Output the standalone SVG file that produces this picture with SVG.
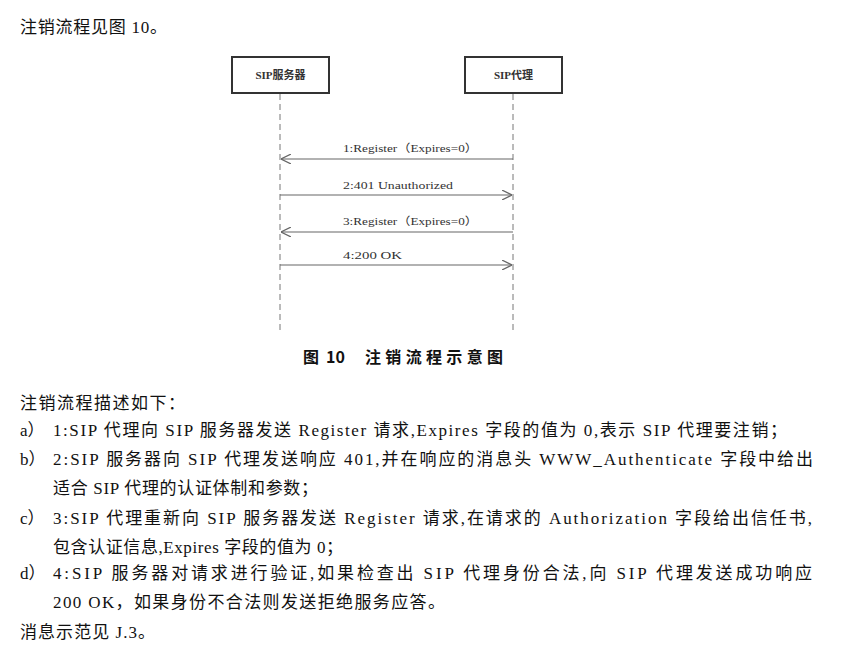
<svg xmlns="http://www.w3.org/2000/svg" width="857" height="649" viewBox="0 0 857 649">
<defs>
<style>
.body{font-family:"Liberation Serif","Noto Sans CJK SC",serif;font-size:17px;fill:#111;}
.lbl{font-family:"Liberation Serif","Noto Sans CJK SC",serif;font-size:11px;fill:#333;}
.box{fill:#fff;stroke:#333;stroke-width:2;}
.boxt{font-family:"Liberation Serif","Noto Sans CJK SC",serif;font-size:11px;font-weight:bold;fill:#333;text-anchor:middle;}
.life{stroke:#777;stroke-width:1;stroke-dasharray:6,4;fill:none;}
.msg{stroke:#666;stroke-width:1.2;fill:none;}
.cap{font-family:"Noto Sans CJK SC","Liberation Sans",sans-serif;font-size:16px;font-weight:bold;fill:#111;}
</style>
<marker id="arr" viewBox="0 0 10 10" refX="10" refY="5" markerWidth="10" markerHeight="10" markerUnits="userSpaceOnUse" orient="auto">
<path d="M0,0 L10,5 L0,10" fill="none" stroke="#666" stroke-width="1.2"/>
</marker>
</defs>
<rect width="857" height="649" fill="#fff"/>
<text class="body" x="20" y="33" textLength="147" lengthAdjust="spacing">注销流程见图 10。</text>

<g id="server">
<rect class="box" x="232" y="57" width="97" height="36"/>
<text class="boxt" x="280.5" y="79">SIP服务器</text>
</g>
<g id="proxy">
<rect class="box" x="465" y="57" width="97" height="36"/>
<text class="boxt" x="513.5" y="79">SIP代理</text>
</g>
<g id="lifelines">
<line class="life" x1="280" y1="94" x2="280" y2="330"/>
<line class="life" x1="513" y1="94" x2="513" y2="330"/>
</g>
<g id="connectors">
<line class="msg" x1="513" y1="159" x2="281" y2="159" marker-end="url(#arr)"/>
<text class="lbl" x="343" y="152" textLength="135" lengthAdjust="spacingAndGlyphs">1:Register（Expires=0）</text>
<line class="msg" x1="280" y1="195" x2="512" y2="195" marker-end="url(#arr)"/>
<text class="lbl" x="343" y="189" textLength="110" lengthAdjust="spacingAndGlyphs">2:401 Unauthorized</text>
<line class="msg" x1="513" y1="232" x2="281" y2="232" marker-end="url(#arr)"/>
<text class="lbl" x="343" y="225" textLength="135" lengthAdjust="spacingAndGlyphs">3:Register（Expires=0）</text>
<line class="msg" x1="280" y1="265" x2="512" y2="265" marker-end="url(#arr)"/>
<text class="lbl" x="343" y="259" textLength="59" lengthAdjust="spacingAndGlyphs">4:200 OK</text>
</g>

<g id="caption">
<text class="cap" x="303" y="363">图</text>
<text class="cap" x="326" y="363">10</text>
<text class="cap" x="365" y="363" textLength="138" lengthAdjust="spacing">注销流程示意图</text>
</g>

<text class="body" x="20" y="409" textLength="165" lengthAdjust="spacing">注销流程描述如下：</text>
<text class="body" x="20" y="436">a）</text>
<text class="body" x="53" y="436" textLength="734" lengthAdjust="spacing">1:SIP 代理向 SIP 服务器发送 Register 请求,Expires 字段的值为 0,表示 SIP 代理要注销；</text>
<text class="body" x="20" y="465">b）</text>
<text class="body" x="53" y="465" textLength="760" lengthAdjust="spacing">2:SIP 服务器向 SIP 代理发送响应 401,并在响应的消息头 WWW_Authenticate 字段中给出</text>
<text class="body" x="53" y="494" textLength="265" lengthAdjust="spacing">适合 SIP 代理的认证体制和参数；</text>
<text class="body" x="20" y="524">c）</text>
<text class="body" x="53" y="524" textLength="759" lengthAdjust="spacing">3:SIP 代理重新向 SIP 服务器发送 Register 请求,在请求的 Authorization 字段给出信任书,</text>
<text class="body" x="53" y="553" textLength="290" lengthAdjust="spacing">包含认证信息,Expires 字段的值为 0；</text>
<text class="body" x="20" y="579">d）</text>
<text class="body" x="53" y="579" textLength="759" lengthAdjust="spacing">4:SIP 服务器对请求进行验证,如果检查出 SIP 代理身份合法,向 SIP 代理发送成功响应</text>
<text class="body" x="53" y="608" textLength="392" lengthAdjust="spacing">200 OK，如果身份不合法则发送拒绝服务应答。</text>
<text class="body" x="20" y="638" textLength="135" lengthAdjust="spacing">消息示范见 J.3。</text>
</svg>
